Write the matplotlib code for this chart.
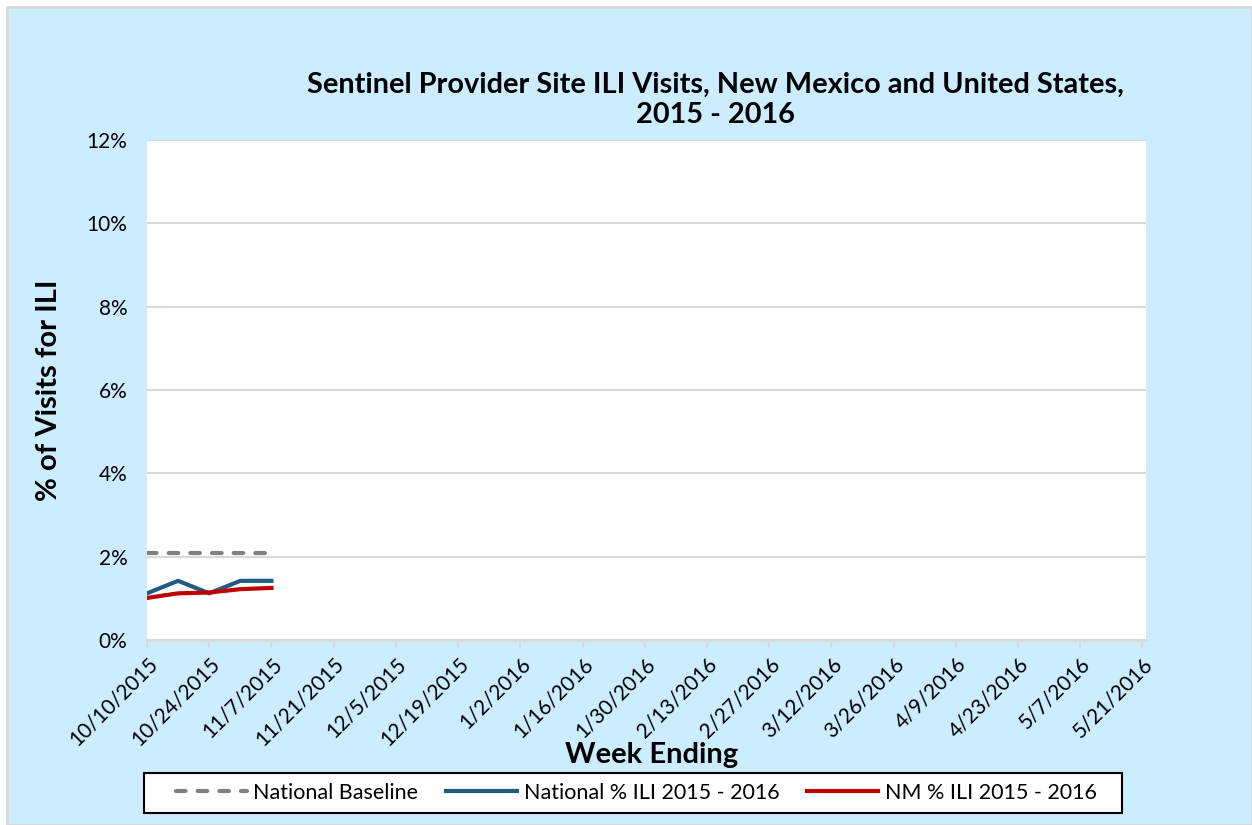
import matplotlib
matplotlib.use("Agg")
import matplotlib.pyplot as plt
from matplotlib.patches import Rectangle
import pandas as pd

plt.rcParams['font.family'] = ['Lato', 'DejaVu Sans']

# Data
week_dates = ["2015-10-10", "2015-10-17", "2015-10-24", "2015-10-31", "2015-11-07"]
national_baseline = [2.1, 2.1, 2.1, 2.1, 2.1]
national_ili = [1.12, 1.42, 1.12, 1.42, 1.42]
nm_ili = [1.01, 1.12, 1.14, 1.22, 1.25]
axis_start = "2015-10-10"
axis_end = "2016-05-21"
y_ticks = [0, 2, 4, 6, 8, 10, 12]

dates = pd.to_datetime(week_dates)
tick_dates = pd.date_range(axis_start, axis_end, freq="14D")

fig = plt.figure(figsize=(12.52, 8.25), dpi=100)
fig.patch.set_facecolor("white")
bg = Rectangle((7/1252, 0), 1 - 7/1252, 1 - 7/825, transform=fig.transFigure,
               facecolor="#CCECFF", edgecolor="#D9D9D9", linewidth=2, zorder=-10)
fig.patches.append(bg)

ax = fig.add_axes([147/1252, 1 - 640/825, (1146 - 147)/1252, (640 - 140)/825])
ax.set_facecolor("white")

ax.plot(dates, national_baseline, color="#808080", lw=3, ls=(0, (2.3, 2.9)),
        label="National Baseline", dash_capstyle="round")
ax.plot(dates, national_ili, color="#1F5C80", lw=3, label="National % ILI 2015 - 2016")
ax.plot(dates, nm_ili, color="#C00000", lw=3, label="NM % ILI 2015 - 2016")

ax.set_ylim(0, 12)
ax.set_yticks(y_ticks)
ax.set_yticklabels([f"{v}%" for v in y_ticks], fontsize=15)
ax.set_xlim(pd.Timestamp(axis_start), pd.Timestamp(axis_end) + pd.Timedelta(days=0.8))
ax.set_xticks(tick_dates)
ax.set_xticklabels([f"{d.month}/{d.day}/{d.year}" for d in tick_dates],
                   rotation=45, ha="right", rotation_mode="anchor", fontsize=15)

ax.grid(axis="y", color="#D9D9D9", lw=1.5)
ax.set_axisbelow(True)
for s in ["left", "right", "top"]:
    ax.spines[s].set_visible(False)
ax.spines["bottom"].set_color("#D9D9D9")
ax.spines["bottom"].set_linewidth(2)
ax.tick_params(axis="x", colors="#D9D9D9", length=6, width=1.5, labelcolor="black", pad=4)
ax.tick_params(axis="y", length=0, pad=14, labelcolor="black")

ax.set_ylabel("% of Visits for ILI", fontsize=21, fontweight="bold", labelpad=20)
ax.yaxis.set_label_coords(-(147 - 62)/999, 0.5)
fig.text(652/1252, 1 - 755/825, "Week Ending", fontsize=21, fontweight="bold",
         ha="center", va="center")
fig.text(715/1252, 1 - 100/825,
         "Sentinel Provider Site ILI Visits, New Mexico and United States,\n2015 - 2016",
         fontsize=20.8, fontweight="bold", ha="center", va="center", linespacing=1.22)

# legend box
box = Rectangle((144/1252, 1 - 813/825), (1122 - 144)/1252, 40/825,
                transform=fig.transFigure, facecolor="white", edgecolor="black",
                linewidth=1.5, zorder=1)
fig.patches.append(box)
leg = fig.legend(loc="center", bbox_to_anchor=(636/1252, 1 - 793/825), ncol=3,
                 fontsize=15.5, frameon=False, handlelength=3.3,
                 columnspacing=1.3, handletextpad=0.3, borderpad=0.2)
leg.set_zorder(5)

fig.savefig("out.png", dpi=100)
